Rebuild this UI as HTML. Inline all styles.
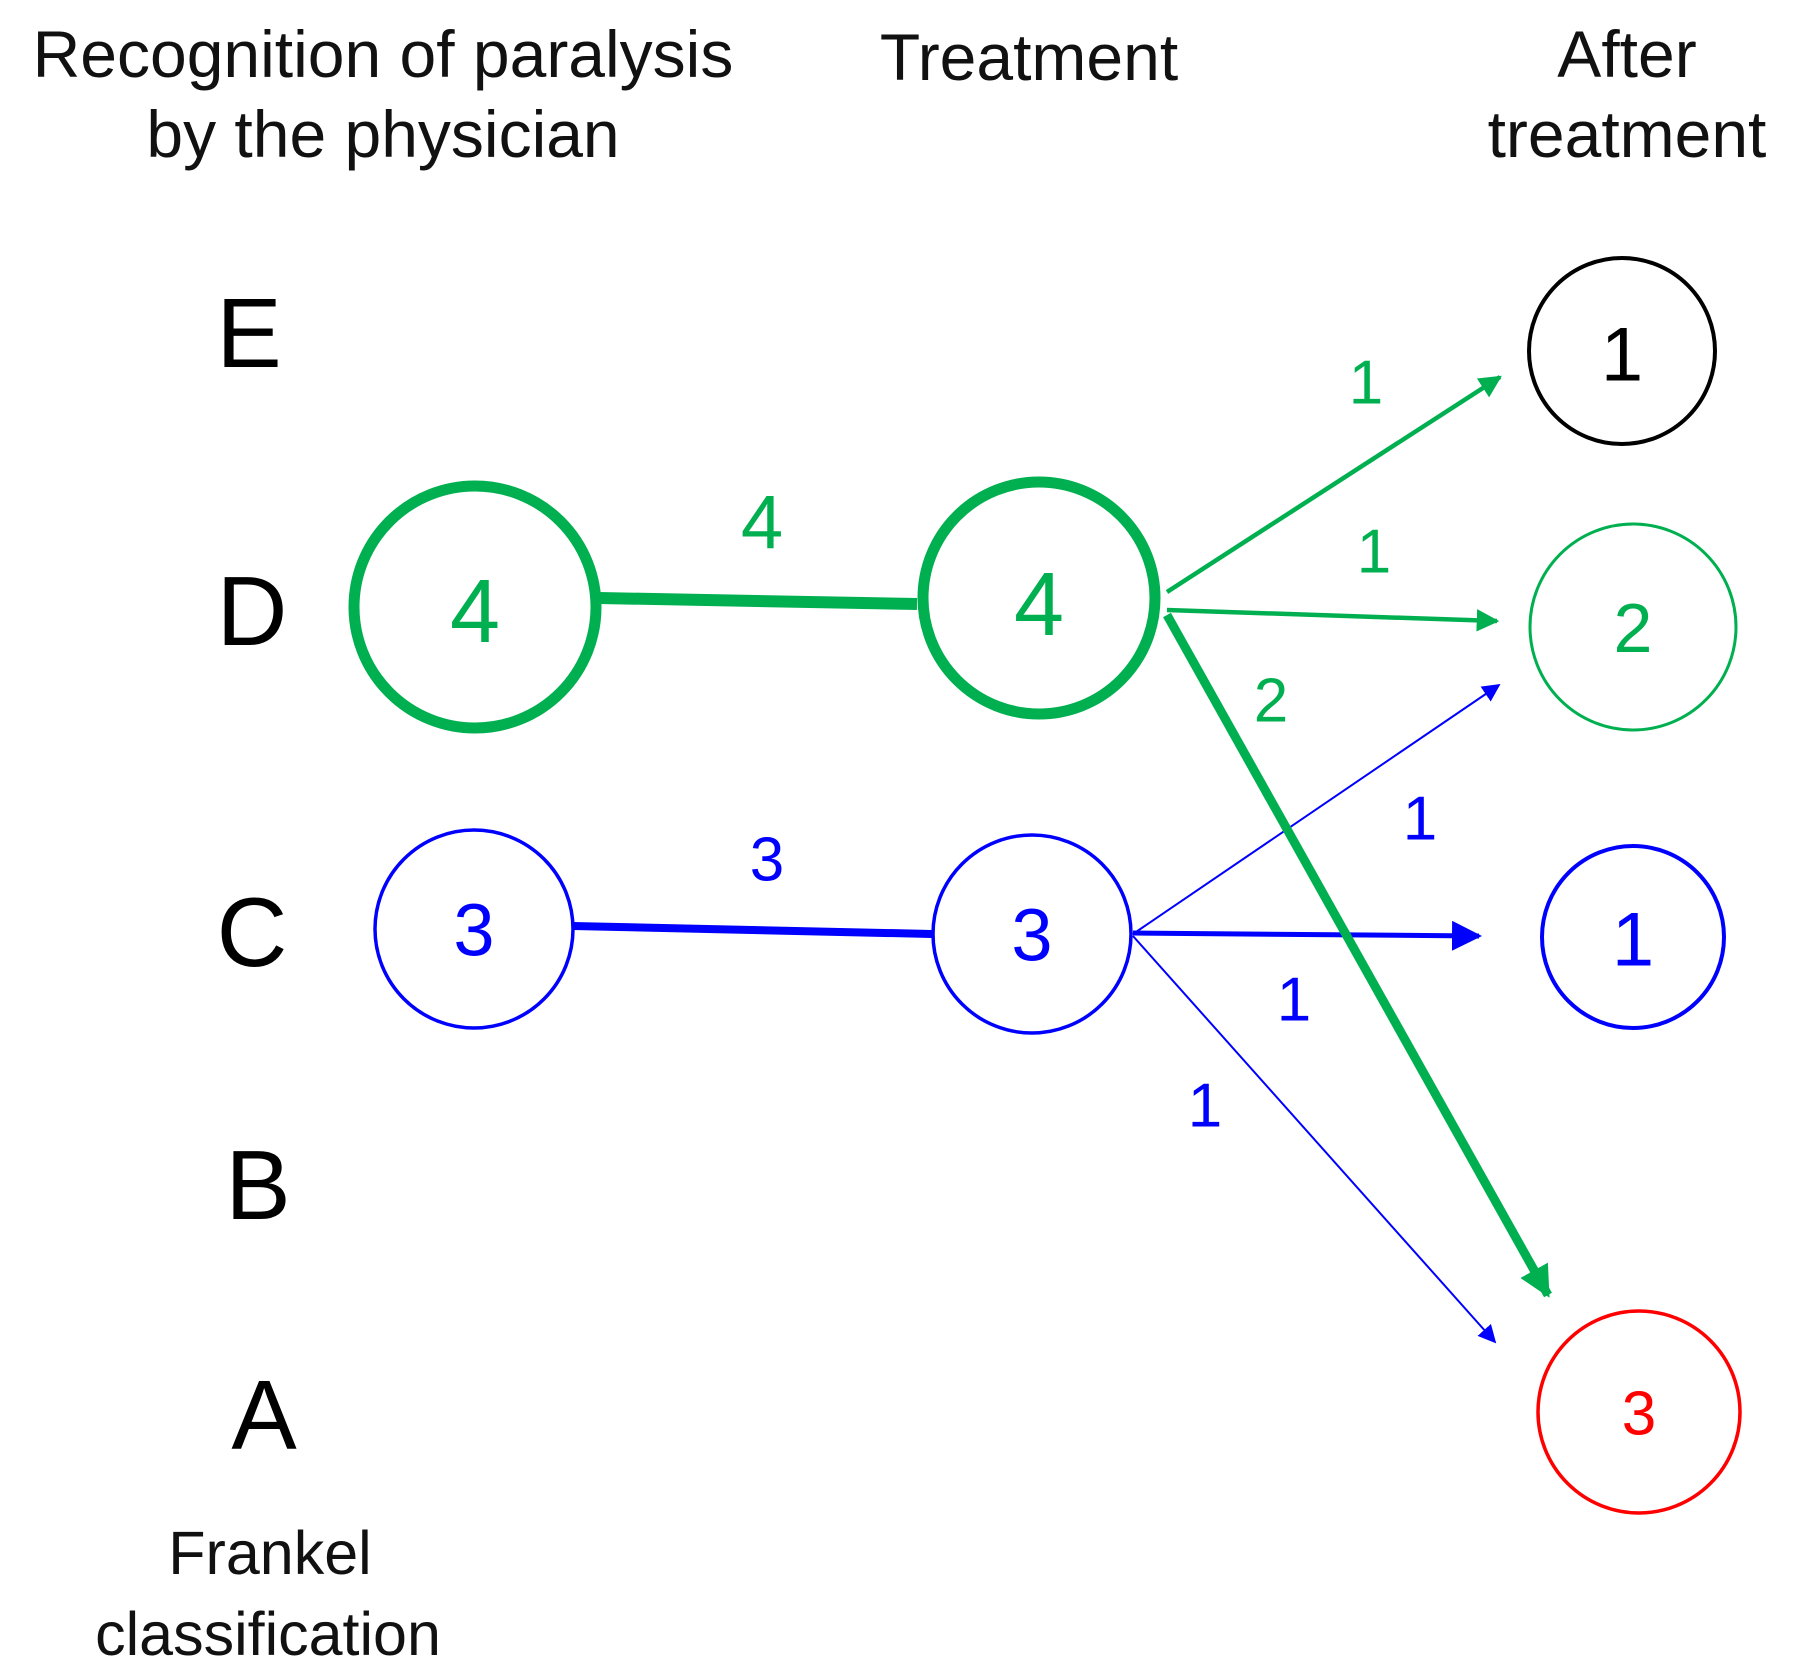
<!DOCTYPE html>
<html><head><meta charset="utf-8"><style>
html,body{margin:0;padding:0;background:#fff;}
svg{display:block;}
text{font-family:"Liberation Sans",Arial,sans-serif;}
</style></head><body>
<svg width="1795" height="1668" viewBox="0 0 1795 1668" xmlns="http://www.w3.org/2000/svg">
<defs>
<marker id="ag" viewBox="0 0 10 10" refX="9" refY="5" markerWidth="5" markerHeight="5" markerUnits="strokeWidth" orient="auto"><path d="M0,0 L10,5 L0,10 z" fill="#00b050"/></marker>
<marker id="agb" viewBox="0 0 10 10" refX="9" refY="5" markerWidth="3.5" markerHeight="3.5" markerUnits="strokeWidth" orient="auto"><path d="M0,0 L10,5 L0,10 z" fill="#00b050"/></marker>
<marker id="ab" viewBox="0 0 10 10" refX="9" refY="5" markerWidth="6" markerHeight="6" markerUnits="strokeWidth" orient="auto"><path d="M0,0 L10,5 L0,10 z" fill="#0000ff"/></marker>
<marker id="abt" viewBox="0 0 10 10" refX="9" refY="5" markerWidth="9" markerHeight="9" markerUnits="strokeWidth" orient="auto"><path d="M0,0 L10,5 L0,10 z" fill="#0000ff"/></marker>
</defs>
<g font-size="66" fill="#111" text-anchor="middle">
<text x="383" y="77">Recognition of paralysis</text>
<text x="383" y="157">by the physician</text>
<text x="1029" y="80">Treatment</text>
<text x="1627" y="77">After</text>
<text x="1627" y="157">treatment</text>
</g>
<g font-size="98" fill="#000" text-anchor="middle">
<text x="249" y="367">E</text>
<text x="252" y="645">D</text>
<text x="252" y="966">C</text>
<text x="258" y="1219">B</text>
<text x="264" y="1449">A</text>
</g>
<g font-size="61" fill="#111" text-anchor="middle">
<text x="270" y="1574">Frankel</text>
<text x="268" y="1655">classification</text>
</g>
<!-- edges -->
<line x1="599" y1="598" x2="917" y2="604" stroke="#00b050" stroke-width="12"/>
<line x1="573" y1="926" x2="932" y2="934" stroke="#0000ff" stroke-width="8"/>
<line x1="1167" y1="592" x2="1500" y2="377" stroke="#00b050" stroke-width="4.5" marker-end="url(#ag)"/>
<line x1="1167" y1="610" x2="1497" y2="621" stroke="#00b050" stroke-width="4.5" marker-end="url(#ag)"/>
<line x1="1133" y1="934" x2="1499" y2="685" stroke="#0000ff" stroke-width="2" marker-end="url(#abt)"/>
<line x1="1133" y1="933" x2="1479" y2="936" stroke="#0000ff" stroke-width="5" marker-end="url(#ab)"/>
<line x1="1133" y1="936" x2="1495" y2="1342" stroke="#0000ff" stroke-width="2" marker-end="url(#abt)"/>
<line x1="1167" y1="615" x2="1548" y2="1295" stroke="#00b050" stroke-width="9" marker-end="url(#agb)"/>
<!-- nodes -->
<circle cx="475" cy="607" r="121" fill="none" stroke="#00b050" stroke-width="11"/>
<circle cx="1039" cy="598" r="116" fill="none" stroke="#00b050" stroke-width="11"/>
<circle cx="474" cy="929" r="99" fill="none" stroke="#0000ff" stroke-width="3.5"/>
<circle cx="1032" cy="934" r="99" fill="none" stroke="#0000ff" stroke-width="3.5"/>
<circle cx="1622" cy="351" r="93" fill="none" stroke="#000" stroke-width="4"/>
<circle cx="1633" cy="627" r="103" fill="none" stroke="#00b050" stroke-width="3"/>
<circle cx="1633" cy="937" r="91" fill="none" stroke="#0000ff" stroke-width="4"/>
<circle cx="1639" cy="1412" r="101" fill="none" stroke="#ff0000" stroke-width="3.5"/>
<g text-anchor="middle" dominant-baseline="central">
<text x="475" y="612" font-size="90" fill="#00b050">4</text>
<text x="1039" y="605" font-size="90" fill="#00b050">4</text>
<text x="474" y="930" font-size="74" fill="#0000ff">3</text>
<text x="1032" y="935" font-size="74" fill="#0000ff">3</text>
<text x="1622" y="355" font-size="76" fill="#000">1</text>
<text x="1633" y="628" font-size="70" fill="#00b050">2</text>
<text x="1633" y="940" font-size="76" fill="#0000ff">1</text>
<text x="1639" y="1414" font-size="62" fill="#ff0000">3</text>
<text x="762" y="523" font-size="76" fill="#00b050">4</text>
<text x="1366" y="383" font-size="62" fill="#00b050">1</text>
<text x="1374" y="552" font-size="62" fill="#00b050">1</text>
<text x="1271" y="701" font-size="62" fill="#00b050">2</text>
<text x="767" y="860" font-size="62" fill="#0000ff">3</text>
<text x="1420" y="819" font-size="62" fill="#0000ff">1</text>
<text x="1294" y="1000" font-size="62" fill="#0000ff">1</text>
<text x="1205" y="1106" font-size="62" fill="#0000ff">1</text>
</g>
</svg>
</body></html>
